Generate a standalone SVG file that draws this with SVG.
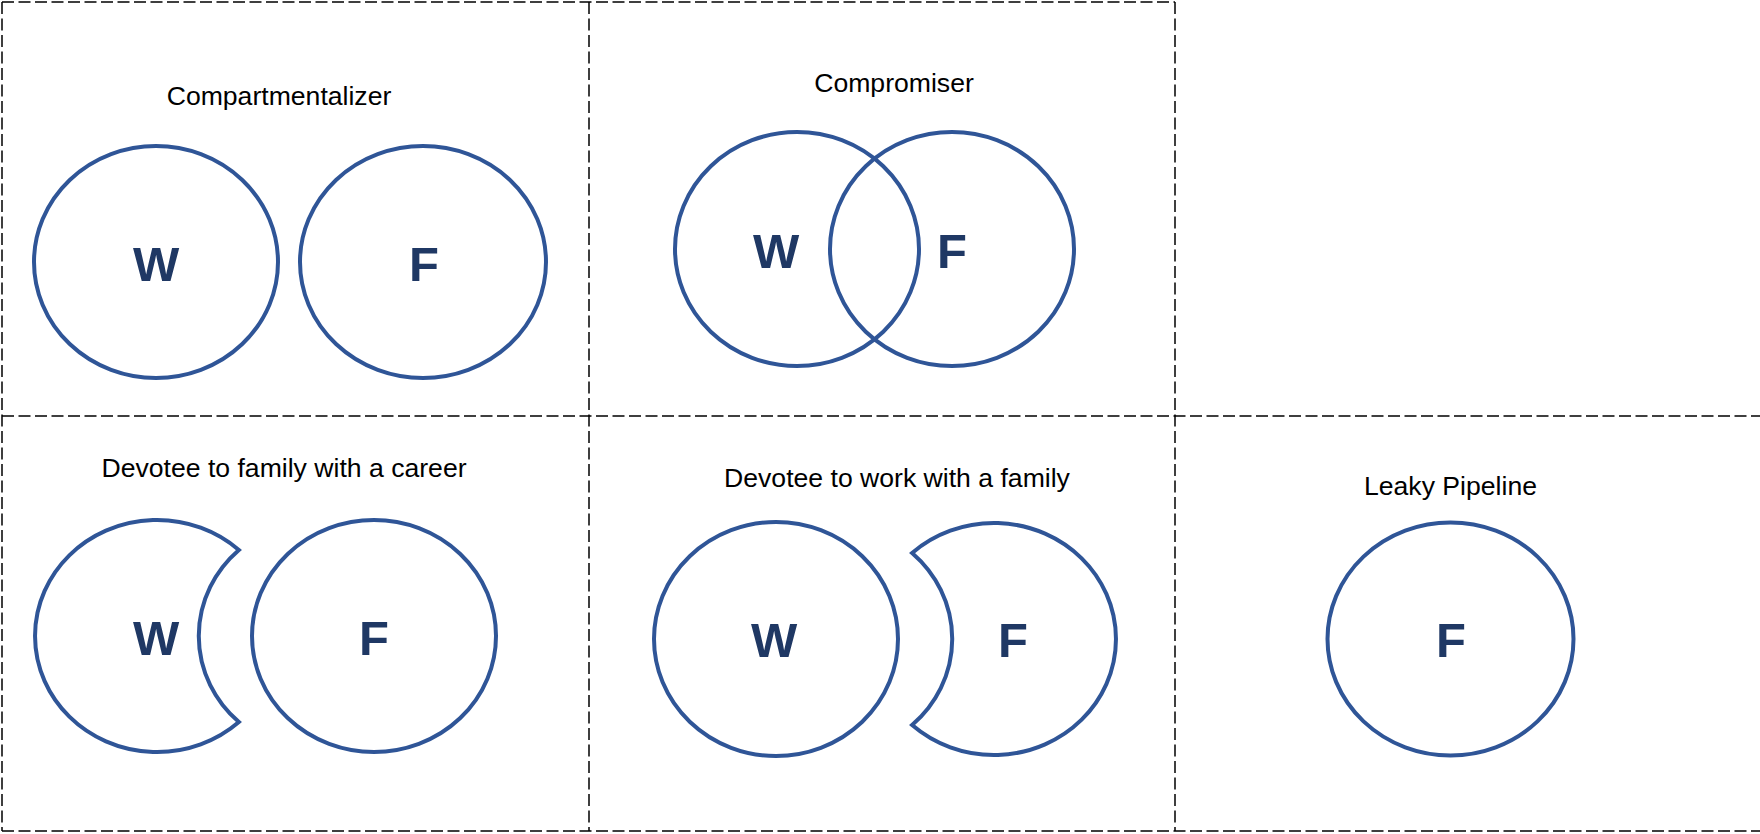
<svg xmlns="http://www.w3.org/2000/svg" width="1760" height="834" viewBox="0 0 1760 834">
<style>
.grid{stroke:#000;stroke-width:1.5;stroke-dasharray:12 4.5;fill:none}
.shape{fill:#fff;stroke:#2F5597;stroke-width:4;stroke-linejoin:miter}
.lbl{font-family:"Liberation Sans",Arial,sans-serif;font-size:26.6px;fill:#000;text-anchor:middle}
.let{font-family:"Liberation Sans",Arial,sans-serif;font-size:49px;font-weight:bold;fill:#1F3864;text-anchor:middle}
</style>
<rect width="1760" height="834" fill="#fff"/>
<g id="grid">
<line class="grid" x1="2" y1="2" x2="1175" y2="2"/>
<line class="grid" x1="2" y1="2" x2="2" y2="831"/>
<line class="grid" x1="589" y1="2" x2="589" y2="831"/>
<line class="grid" x1="1175" y1="2" x2="1175" y2="831"/>
<line class="grid" x1="2" y1="416" x2="1760" y2="416"/>
<line class="grid" x1="2" y1="831" x2="1760" y2="831"/>
</g>
<g id="compartmentalizer">
<text class="lbl" x="279" y="105">Compartmentalizer</text>
<ellipse class="shape" cx="156" cy="262" rx="122" ry="116"/>
<ellipse class="shape" cx="423" cy="262" rx="123" ry="116"/>
<text class="let" x="156" y="281">W</text>
<text class="let" x="424" y="281">F</text>
</g>
<g id="compromiser">
<text class="lbl" x="894" y="92">Compromiser</text>
<ellipse class="shape" cx="797" cy="249" rx="122" ry="117" fill="none" style="fill:none"/>
<ellipse class="shape" cx="952" cy="249" rx="122" ry="117" style="fill:none"/>
<text class="let" x="776" y="268">W</text>
<text class="let" x="952" y="268">F</text>
</g>
<g id="devotee-family">
<text class="lbl" x="284" y="477">Devotee to family with a career</text>
<path class="shape" d="M238.9,550 A122,116 0 1 0 238.9,722 A122,116 0 0 1 238.9,550 Z"/>
<ellipse class="shape" cx="374" cy="636" rx="122" ry="116"/>
<text class="let" x="156" y="655">W</text>
<text class="let" x="374" y="655">F</text>
</g>
<g id="devotee-work">
<text class="lbl" x="897" y="487">Devotee to work with a family</text>
<ellipse class="shape" cx="776" cy="639" rx="122" ry="117"/>
<path class="shape" d="M912.1,553 A122,116 0 1 1 912.1,725 A122,116 0 0 0 912.1,553 Z"/>
<text class="let" x="774" y="657">W</text>
<text class="let" x="1013" y="657">F</text>
</g>
<g id="leaky-pipeline">
<text class="lbl" x="1450.5" y="495">Leaky Pipeline</text>
<ellipse class="shape" cx="1450.5" cy="639" rx="123" ry="116.5"/>
<text class="let" x="1451" y="657">F</text>
</g>
</svg>
